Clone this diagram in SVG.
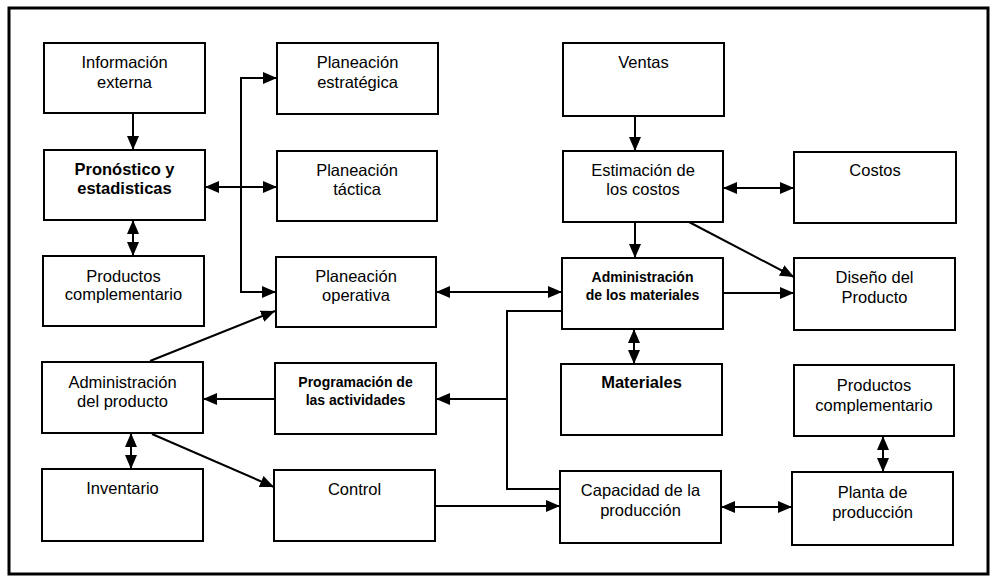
<svg xmlns="http://www.w3.org/2000/svg" width="996" height="578" viewBox="0 0 996 578">
  <style>
    .box { fill: #ffffff; stroke: #000000; stroke-width: 2; }
    .lbl { font-family: "Liberation Sans", Arial, sans-serif; font-size: 16.5px; fill: #000000; text-anchor: middle; }
    .sm { font-size: 14px; font-weight: bold; }
    .b { font-weight: bold; }
    .wire { fill: none; stroke: #000000; stroke-width: 2; }
  </style>
  <defs>
    <marker id="head" markerUnits="userSpaceOnUse" markerWidth="14" markerHeight="12" refX="14" refY="6" orient="auto-start-reverse">
      <path d="M0,0 L14,6 L0,12 z" fill="#000000"/>
    </marker>
  </defs>

  <rect x="0" y="0" width="996" height="578" fill="#ffffff"/>
  <!-- outer frame -->
  <rect x="9" y="8" width="979" height="566" fill="none" stroke="#000000" stroke-width="3"/>

  <!-- connectors -->
  <g id="connectors" class="wire">
    <path d="M133,113 V150" marker-end="url(#head)"/>
    <path d="M133,220 V256" marker-start="url(#head)" marker-end="url(#head)"/>
    <path d="M205,187 H277" marker-start="url(#head)" marker-end="url(#head)"/>
    <path d="M277,78 H241 V292 H276" marker-start="url(#head)" marker-end="url(#head)"/>
    <path d="M150,361 L275,311" marker-end="url(#head)"/>
    <path d="M436,292 H562" marker-start="url(#head)" marker-end="url(#head)"/>
    <path d="M275,399 H203" marker-end="url(#head)"/>
    <path d="M562,311 H507 V489 H560"/>
    <path d="M507,399 H436" marker-end="url(#head)"/>
    <path d="M131,433 V469" marker-start="url(#head)" marker-end="url(#head)"/>
    <path d="M152,434 L274,487" marker-end="url(#head)"/>
    <path d="M435,506 H560" marker-end="url(#head)"/>
    <path d="M721,507 H792" marker-start="url(#head)" marker-end="url(#head)"/>
    <path d="M883,436 V472" marker-start="url(#head)" marker-end="url(#head)"/>
    <path d="M634,329 V364" marker-start="url(#head)" marker-end="url(#head)"/>
    <path d="M723,293 H794" marker-end="url(#head)"/>
    <path d="M635,222 V258" marker-end="url(#head)"/>
    <path d="M689,222 L794,277" marker-end="url(#head)"/>
    <path d="M723,188 H794" marker-start="url(#head)" marker-end="url(#head)"/>
    <path d="M635,116 V151" marker-end="url(#head)"/>
  </g>

  <!-- left column -->
  <g id="informacion-externa">
    <rect class="box" x="44" y="43" width="161" height="70"/>
    <text class="lbl" x="124.5" y="68">Información</text>
    <text class="lbl" x="124.5" y="88">externa</text>
  </g>
  <g id="pronostico">
    <rect class="box" x="44" y="150" width="161" height="70"/>
    <text class="lbl b" x="124.5" y="175">Pronóstico y</text>
    <text class="lbl b" x="124.5" y="194">estadisticas</text>
  </g>
  <g id="productos-complementario-1">
    <rect class="box" x="43" y="256" width="161" height="70"/>
    <text class="lbl" x="123.5" y="282">Productos</text>
    <text class="lbl" x="123.5" y="300">complementario</text>
  </g>
  <g id="administracion-producto">
    <rect class="box" x="42" y="362" width="161" height="71"/>
    <text class="lbl" x="122.5" y="388">Administración</text>
    <text class="lbl" x="122.5" y="407">del producto</text>
  </g>
  <g id="inventario">
    <rect class="box" x="42" y="469" width="161" height="72"/>
    <text class="lbl" x="122.5" y="494">Inventario</text>
  </g>

  <!-- middle column -->
  <g id="planeacion-estrategica">
    <rect class="box" x="277" y="43" width="161" height="71"/>
    <text class="lbl" x="357.5" y="68">Planeación</text>
    <text class="lbl" x="357.5" y="88">estratégica</text>
  </g>
  <g id="planeacion-tactica">
    <rect class="box" x="277" y="151" width="160" height="70"/>
    <text class="lbl" x="357" y="176">Planeación</text>
    <text class="lbl" x="357" y="195">táctica</text>
  </g>
  <g id="planeacion-operativa">
    <rect class="box" x="276" y="257" width="160" height="70"/>
    <text class="lbl" x="356" y="282">Planeación</text>
    <text class="lbl" x="356" y="301">operativa</text>
  </g>
  <g id="programacion-actividades">
    <rect class="box" x="275" y="363" width="161" height="71"/>
    <text class="lbl sm" x="355.5" y="387">Programación de</text>
    <text class="lbl sm" x="355.5" y="405">las actividades</text>
  </g>
  <g id="control">
    <rect class="box" x="274" y="470" width="161" height="71"/>
    <text class="lbl" x="354.5" y="495">Control</text>
  </g>

  <!-- third column -->
  <g id="ventas">
    <rect class="box" x="563" y="43" width="161" height="73"/>
    <text class="lbl" x="643.5" y="68">Ventas</text>
  </g>
  <g id="estimacion-costos">
    <rect class="box" x="563" y="151" width="160" height="71"/>
    <text class="lbl" x="643" y="176">Estimación de</text>
    <text class="lbl" x="643" y="195">los costos</text>
  </g>
  <g id="administracion-materiales">
    <rect class="box" x="562" y="258" width="161" height="71"/>
    <text class="lbl sm" x="642.5" y="282">Administración</text>
    <text class="lbl sm" x="642.5" y="300">de los materiales</text>
  </g>
  <g id="materiales">
    <rect class="box" x="561" y="364" width="161" height="71"/>
    <text class="lbl b" x="641.5" y="388">Materiales</text>
  </g>
  <g id="capacidad-produccion">
    <rect class="box" x="560" y="471" width="161" height="72"/>
    <text class="lbl" x="640.5" y="496">Capacidad de la</text>
    <text class="lbl" x="640.5" y="516">producción</text>
  </g>

  <!-- right column -->
  <g id="costos">
    <rect class="box" x="794" y="152" width="162" height="71"/>
    <text class="lbl" x="875" y="176">Costos</text>
  </g>
  <g id="diseno-producto">
    <rect class="box" x="794" y="258" width="161" height="72"/>
    <text class="lbl" x="874.5" y="283">Diseño del</text>
    <text class="lbl" x="874.5" y="303">Producto</text>
  </g>
  <g id="productos-complementario-2">
    <rect class="box" x="794" y="365" width="160" height="71"/>
    <text class="lbl" x="874" y="391">Productos</text>
    <text class="lbl" x="874" y="411">complementario</text>
  </g>
  <g id="planta-produccion">
    <rect class="box" x="792" y="472" width="161" height="73"/>
    <text class="lbl" x="872.5" y="498">Planta de</text>
    <text class="lbl" x="872.5" y="518">producción</text>
  </g>
</svg>
